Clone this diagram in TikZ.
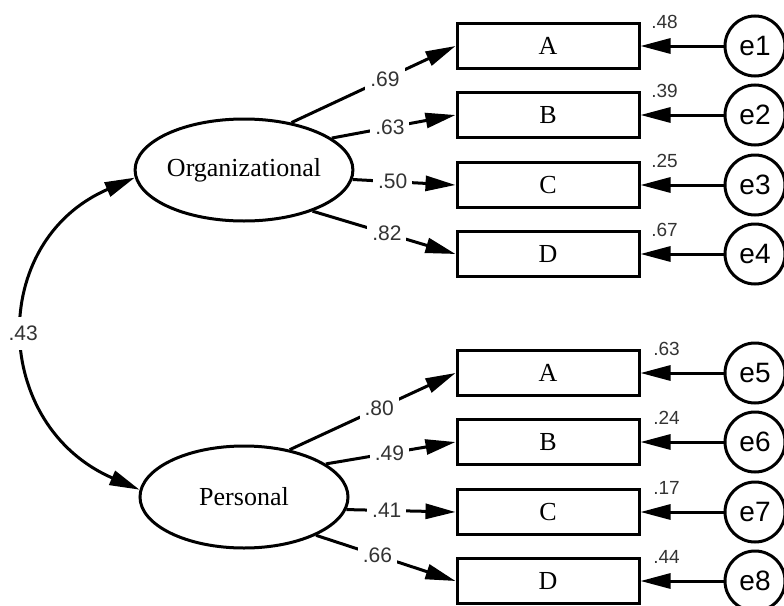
\documentclass[tikz,border=0pt]{standalone}
\usepackage{fontspec}
\setmainfont{Liberation Serif}
\setsansfont{Liberation Sans}
\usetikzlibrary{shapes.geometric,arrows.meta}

\begin{document}
\begin{tikzpicture}[x=1pt,y=-1pt,line width=3pt,
	latent/.style={draw,ellipse,minimum width=208pt,minimum height=102pt,inner sep=0pt,font=\fontsize{26}{28}\selectfont},
	indic/.style={draw,rectangle,minimum width=182pt,minimum height=45pt,inner sep=0pt,font=\fontsize{26}{28}\selectfont},
	errc/.style={draw,circle,minimum size=60pt,inner sep=0pt,font=\sffamily\fontsize{28}{30}\selectfont},
	coef/.style={fill=white,inner sep=5pt,text=black!80,font=\sffamily\fontsize{21}{23}\selectfont},
	varlab/.style={inner sep=0pt,text=black!80,font=\sffamily\fontsize{19}{21}\selectfont},
	tip/.style={-{Triangle[length=30pt,width=15pt]}}]
	\useasboundingbox (0,0) rectangle (784,605);
	\clip (0,0) rectangle (784,605);
	% factors
	\node[latent] (org) at (244,170) {Organizational};
	\node[latent] (pers) at (244,497) {Personal};
	% indicators
	\node[indic] (oa) at (548,46) {A};
	\node[indic] (ob) at (548,115) {B};
	\node[indic] (oc) at (548,185) {C};
	\node[indic] (od) at (548,254) {D};
	\node[indic] (pa) at (548,373) {A};
	\node[indic] (pb) at (548,442) {B};
	\node[indic] (pc) at (548,512) {C};
	\node[indic] (pd) at (548,581) {D};
	% errors
	\node[errc] (e1) at (755,46) {e1};
	\node[errc] (e2) at (755,115) {e2};
	\node[errc] (e3) at (755,185) {e3};
	\node[errc] (e4) at (755,254) {e4};
	\node[errc] (e5) at (755,373) {e5};
	\node[errc] (e6) at (755,442) {e6};
	\node[errc] (e7) at (755,512) {e7};
	\node[errc] (e8) at (755,581) {e8};
	% loadings
	\draw[tip] (org.45) -- node[coef,pos=0.57] {.69} (oa.west);
	\draw[tip] (org.20) -- node[coef,pos=0.47] {.63} (ob.west);
	\draw[tip] (org.-5) -- node[coef,pos=0.39] {.50} (oc.west);
	\draw[tip] (org.-31) -- node[coef,pos=0.52] {.82} (od.west);
	\draw[tip] (pers.46) -- node[coef,pos=0.54] {.80} (pa.west);
	\draw[tip] (pers.22) -- node[coef,pos=0.49] {.49} (pb.west);
	\draw[tip] (pers.-7) -- node[coef,pos=0.37] {.41} (pc.west);
	\draw[tip] (pers.-28) -- node[coef,pos=0.44] {.66} (pd.west);
	% error paths
	\draw[tip] (e1) -- (oa.east);
	\draw[tip] (e2) -- (ob.east);
	\draw[tip] (e3) -- (oc.east);
	\draw[tip] (e4) -- (od.east);
	\draw[tip] (e5) -- (pa.east);
	\draw[tip] (e6) -- (pb.east);
	\draw[tip] (e7) -- (pc.east);
	\draw[tip] (e8) -- (pd.east);
	% squared multiple correlations
	\node[varlab] at ([xshift=24pt]oa.north east) {.48};
	\node[varlab] at ([xshift=24pt]ob.north east) {.39};
	\node[varlab] at ([xshift=24pt]oc.north east) {.25};
	\node[varlab] at ([xshift=24pt]od.north east) {.67};
	\node[varlab] at ([xshift=26pt]pa.north east) {.63};
	\node[varlab] at ([xshift=26pt]pb.north east) {.24};
	\node[varlab] at ([xshift=26pt]pc.north east) {.17};
	\node[varlab] at ([xshift=26pt]pd.north east) {.44};
	% covariance
	\draw[{Triangle[length=30pt,width=15pt]}-{Triangle[length=30pt,width=15pt]}]
		(org.184) .. controls +(-148,64) and +(-148,-64) .. (pers.176)
		node[coef,pos=0.5,inner ysep=9pt,xshift=-3pt] {.43};
\end{tikzpicture}
\end{document}
